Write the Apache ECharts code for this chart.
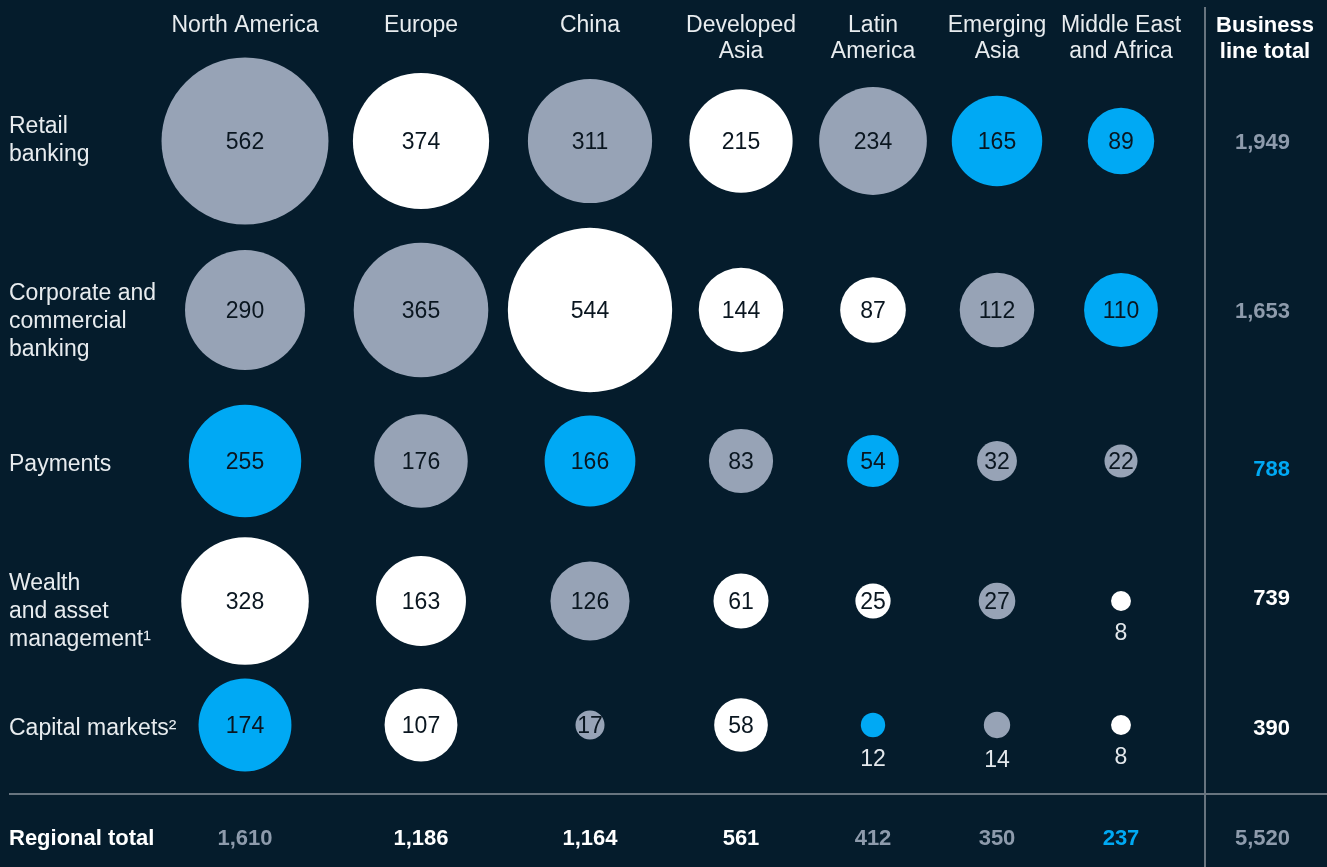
<!DOCTYPE html>
<html>
<head>
<meta charset="utf-8">
<script src="https://cdn.jsdelivr.net/npm/echarts@6/dist/echarts.min.js"></script>
<style>
html,body{margin:0;padding:0;background:#051c2c;}
#chart{width:1327px;height:867px;}
</style>
</head>
<body>
<div id="chart"></div>
<script>
// ---- data ----
const regions = ['North America','Europe','China','Developed Asia','Latin America','Emerging Asia','Middle East and Africa'];
const regionHeaders = ['North America','Europe','China','Developed\nAsia','Latin\nAmerica','Emerging\nAsia','Middle East\nand Africa'];
const businessLines = ['Retail banking','Corporate and commercial banking','Payments','Wealth and asset management','Capital markets'];
const businessLineLabels = ['Retail\nbanking','Corporate and\ncommercial\nbanking','Payments','Wealth\nand asset\nmanagement\u00b9','Capital markets\u00b2'];
const retailBanking = [562,374,311,215,234,165,89];
const corporateBanking = [290,365,544,144,87,112,110];
const payments = [255,176,166,83,54,32,22];
const wealthManagement = [328,163,126,61,25,27,8];
const capitalMarkets = [174,107,17,58,12,14,8];
// category of each cell: g = grey, w = white, b = blue
const retailTier = ['g','w','g','w','g','b','b'];
const corporateTier = ['g','g','w','w','w','g','b'];
const paymentsTier = ['b','g','b','g','b','g','g'];
const wealthTier = ['w','w','g','w','w','g','w'];
const capitalTier = ['b','w','g','w','b','g','w'];
const lineTotals = ['1,949','1,653','788','739','390'];
const lineTotalTier = ['g','g','b','w','w'];
const regionTotals = ['1,610','1,186','1,164','561','412','350','237'];
const regionTotalTier = ['g','w','w','w','g','g','b'];
const grandTotal = '5,520';
const grandTotalTier = 'g';

// ---- layout / style ----
const values = [retailBanking, corporateBanking, payments, wealthManagement, capitalMarkets];
const tiers = [retailTier, corporateTier, paymentsTier, wealthTier, capitalTier];
const colX = [245,421,590,741,873,997,1121];
const rowY = [141,310,461,601,725];
const rowLabelY = [141,322,465,612,729];
const lineTotalY = [143,312,470,599,729];
const totalsRowY = 839;
const headerTop = 13;
const bubbleFill = {g:'#97a3b6', w:'#ffffff', b:'#00a9f4'};
const textFill = {g:'#8e9bac', w:'#ffffff', b:'#00a9f4'};
const FONT = '"Liberation Sans", Arial, sans-serif';
const sizeK = 7.044;

const grids = [], xAxes = [], yAxes = [], series = [];
let idx = 0;
for (let r = 0; r < businessLines.length; r++) {
  for (let c = 0; c < regions.length; c++) {
    const v = values[r][c];
    grids.push({left: colX[c]-90, top: rowY[r]-90, width: 180, height: 180, containLabel: false});
    xAxes.push({type:'category', gridIndex: idx, data:[regions[c]], show:false});
    yAxes.push({type:'category', gridIndex: idx, data:[businessLines[r]], show:false});
    const small = v < 15;
    series.push({
      type:'scatter', xAxisIndex: idx, yAxisIndex: idx, silent:true,
      data:[{value:[regions[c], businessLines[r], v], itemStyle:{color: bubbleFill[tiers[r][c]], opacity:1}}],
      symbolSize: function(d){ return sizeK*Math.sqrt(d[2]); },
      label:{
        show:true,
        position: small ? 'bottom' : 'inside',
        distance: 11,
        offset: small ? [0,0] : [0,2],
        formatter: function(p){ return p.value[2]; },
        color: small ? '#e4e8ec' : '#0a1620',
        fontSize: 23, fontFamily: FONT
      },
      emphasis:{disabled:true}
    });
    idx++;
  }
}

const graphic = [];
// column headers
regionHeaders.forEach((h, c) => {
  graphic.push({type:'text', x: colX[c], y: headerTop, silent:true,
    style:{text:h, fill:'#e8ecef', fontSize:23, fontFamily:FONT, lineHeight:26, align:'center', verticalAlign:'top'}});
});
graphic.push({type:'text', x: 1265, y: headerTop, silent:true,
  style:{text:'Business\nline total', fill:'#ffffff', fontSize:22, fontWeight:'bold', fontFamily:FONT, lineHeight:26, align:'center', verticalAlign:'top'}});
// row labels
businessLineLabels.forEach((l, r) => {
  graphic.push({type:'text', x: 9, y: rowLabelY[r], silent:true,
    style:{text:l, fill:'#e8ecef', fontSize:23, fontFamily:FONT, lineHeight:28, align:'left', verticalAlign:'middle'}});
});
// business line totals
lineTotals.forEach((t, r) => {
  graphic.push({type:'text', x: 1290, y: lineTotalY[r], silent:true,
    style:{text:t, fill:textFill[lineTotalTier[r]], fontSize:22, fontWeight:'bold', fontFamily:FONT, align:'right', verticalAlign:'middle'}});
});
// regional totals
graphic.push({type:'text', x: 9, y: totalsRowY, silent:true,
  style:{text:'Regional total', fill:'#ffffff', fontSize:22, fontWeight:'bold', fontFamily:FONT, align:'left', verticalAlign:'middle'}});
regionTotals.forEach((t, c) => {
  graphic.push({type:'text', x: colX[c], y: totalsRowY, silent:true,
    style:{text:t, fill:textFill[regionTotalTier[c]], fontSize:22, fontWeight:'bold', fontFamily:FONT, align:'center', verticalAlign:'middle'}});
});
graphic.push({type:'text', x: 1290, y: totalsRowY, silent:true,
  style:{text:grandTotal, fill:textFill[grandTotalTier], fontSize:22, fontWeight:'bold', fontFamily:FONT, align:'right', verticalAlign:'middle'}});
// separators
graphic.push({type:'line', silent:true, shape:{x1:9, y1:794, x2:1327, y2:794}, style:{stroke:'#68747f', lineWidth:2}});
graphic.push({type:'line', silent:true, shape:{x1:1205, y1:7, x2:1205, y2:867}, style:{stroke:'#68747f', lineWidth:2}});

const chart = echarts.init(document.getElementById('chart'), null, {renderer:'canvas'});
chart.setOption({
  backgroundColor:'#051c2c',
  animation:false,
  grid: grids, xAxis: xAxes, yAxis: yAxes, series: series,
  graphic: graphic
});
</script>
</body>
</html>
